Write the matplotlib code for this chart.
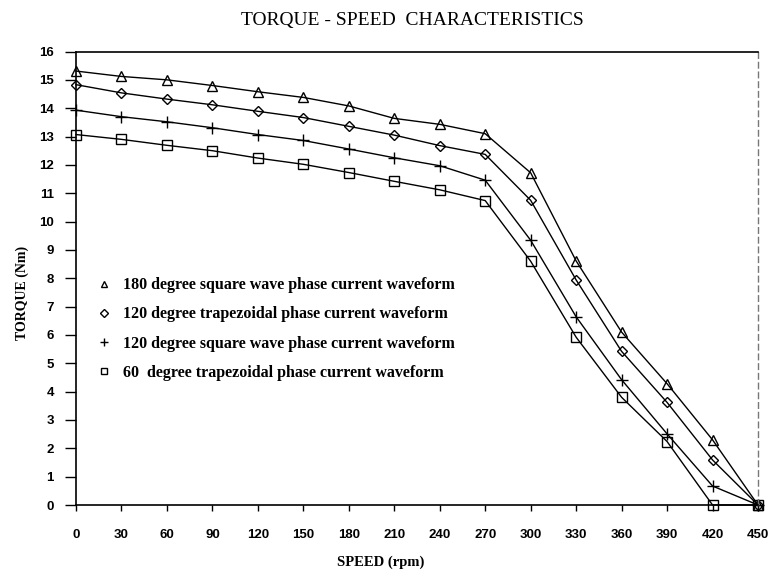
import matplotlib
matplotlib.use("Agg")
import matplotlib.pyplot as plt

speed = [0, 30, 60, 90, 120, 150, 180, 210, 240, 270, 300, 330, 360, 390, 420, 450]
torque_180_square = [15.31, 15.12, 15.00, 14.80, 14.58, 14.38, 14.08, 13.64, 13.43, 13.10,
                     11.72, 8.61, 6.10, 4.28, 2.30, 0.0]
torque_120_trap = [14.83, 14.54, 14.32, 14.12, 13.89, 13.67, 13.36, 13.05, 12.68, 12.37,
                   10.75, 7.94, 5.42, 3.62, 1.59, 0.0]
torque_120_square = [13.93, 13.70, 13.52, 13.31, 13.07, 12.86, 12.56, 12.25, 11.97, 11.46,
                     9.34, 6.64, 4.42, 2.51, 0.67, 0.0]
torque_60_trap = [13.07, 12.90, 12.69, 12.50, 12.24, 12.02, 11.73, 11.42, 11.12, 10.74,
                  8.60, 5.92, 3.80, 2.24, 0.0, 0.0]

series_labels = [
    "180 degree square wave phase current waveform",
    "120 degree trapezoidal phase current waveform",
    "120 degree square wave phase current waveform",
    "60  degree trapezoidal phase current waveform",
]
series_markers = ["^", "D", "+", "s"]
x_ticks = list(range(0, 451, 30))
y_ticks = list(range(0, 17))

serif = ["Liberation Serif", "DejaVu Serif"]
sans = ["Liberation Sans", "DejaVu Sans"]

fig = plt.figure(figsize=(7.7, 5.72), dpi=100)
ax = fig.add_axes([76 / 770, 1 - 505 / 572, (758 - 76) / 770, (505 - 51.5) / 572])

series = [torque_180_square, torque_120_trap, torque_120_square, torque_60_trap]
sizes = [7, 5, 8, 7]
for vals, mk, lab, ms in zip(series, series_markers, series_labels, sizes):
    ax.plot(speed, vals, color="black", lw=1.0, marker=mk, markersize=ms,
            markerfacecolor="none", markeredgecolor="black", markeredgewidth=1.0,
            clip_on=False, label=lab)

ax.set_xlim(0, 450)
ax.set_ylim(0, 16)
ax.set_xticks(x_ticks)
ax.set_yticks(y_ticks)
ax.set_xticklabels([str(v) for v in x_ticks], fontfamily=sans, fontweight="bold", fontsize=9.5)
ax.set_yticklabels([str(v) for v in y_ticks], fontfamily=sans, fontweight="bold", fontsize=9.5)
ax.tick_params(axis="y", direction="out", length=8, width=1.0, pad=8)
ax.tick_params(axis="x", direction="out", length=4, width=1.0, pad=13)

for s in ["left", "bottom", "top"]:
    ax.spines[s].set_linewidth(1.2)
    ax.spines[s].set_color("black")
ax.spines["right"].set_linestyle((0, (4, 3)))
ax.spines["right"].set_color("#777777")
ax.spines["right"].set_linewidth(1.0)

fig.text(0.535, 1 - 20 / 572, "TORQUE - SPEED  CHARACTERISTICS", ha="center", va="center",
         fontfamily=serif, fontsize=14)
fig.text(22 / 770, 1 - 293 / 572, "TORQUE (Nm)", rotation=90, ha="center", va="center",
         fontfamily=serif, fontweight="bold", fontsize=10)
fig.text(381 / 770, 1 - 562 / 572, "SPEED (rpm)", ha="center", va="center",
         fontfamily=serif, fontweight="bold", fontsize=10.5)

leg_handles = []
for mk, lab, ms in zip(series_markers, series_labels, [5, 4, 6, 5]):
    h, = ax.plot([], [], linestyle="none", marker=mk, markersize=ms, markerfacecolor="none",
                 markeredgecolor="black", markeredgewidth=1.0, label=lab)
    leg_handles.append(h)
ax.legend(handles=leg_handles, loc="upper left", bbox_to_anchor=(82 / 770, 1 - 263 / 572),
          bbox_transform=fig.transFigure, frameon=False, handlelength=1.0,
          handletextpad=0.65, labelspacing=0.82,
          prop={"family": serif, "weight": "bold", "size": 11.5})

fig.savefig("out.png", dpi=100)
